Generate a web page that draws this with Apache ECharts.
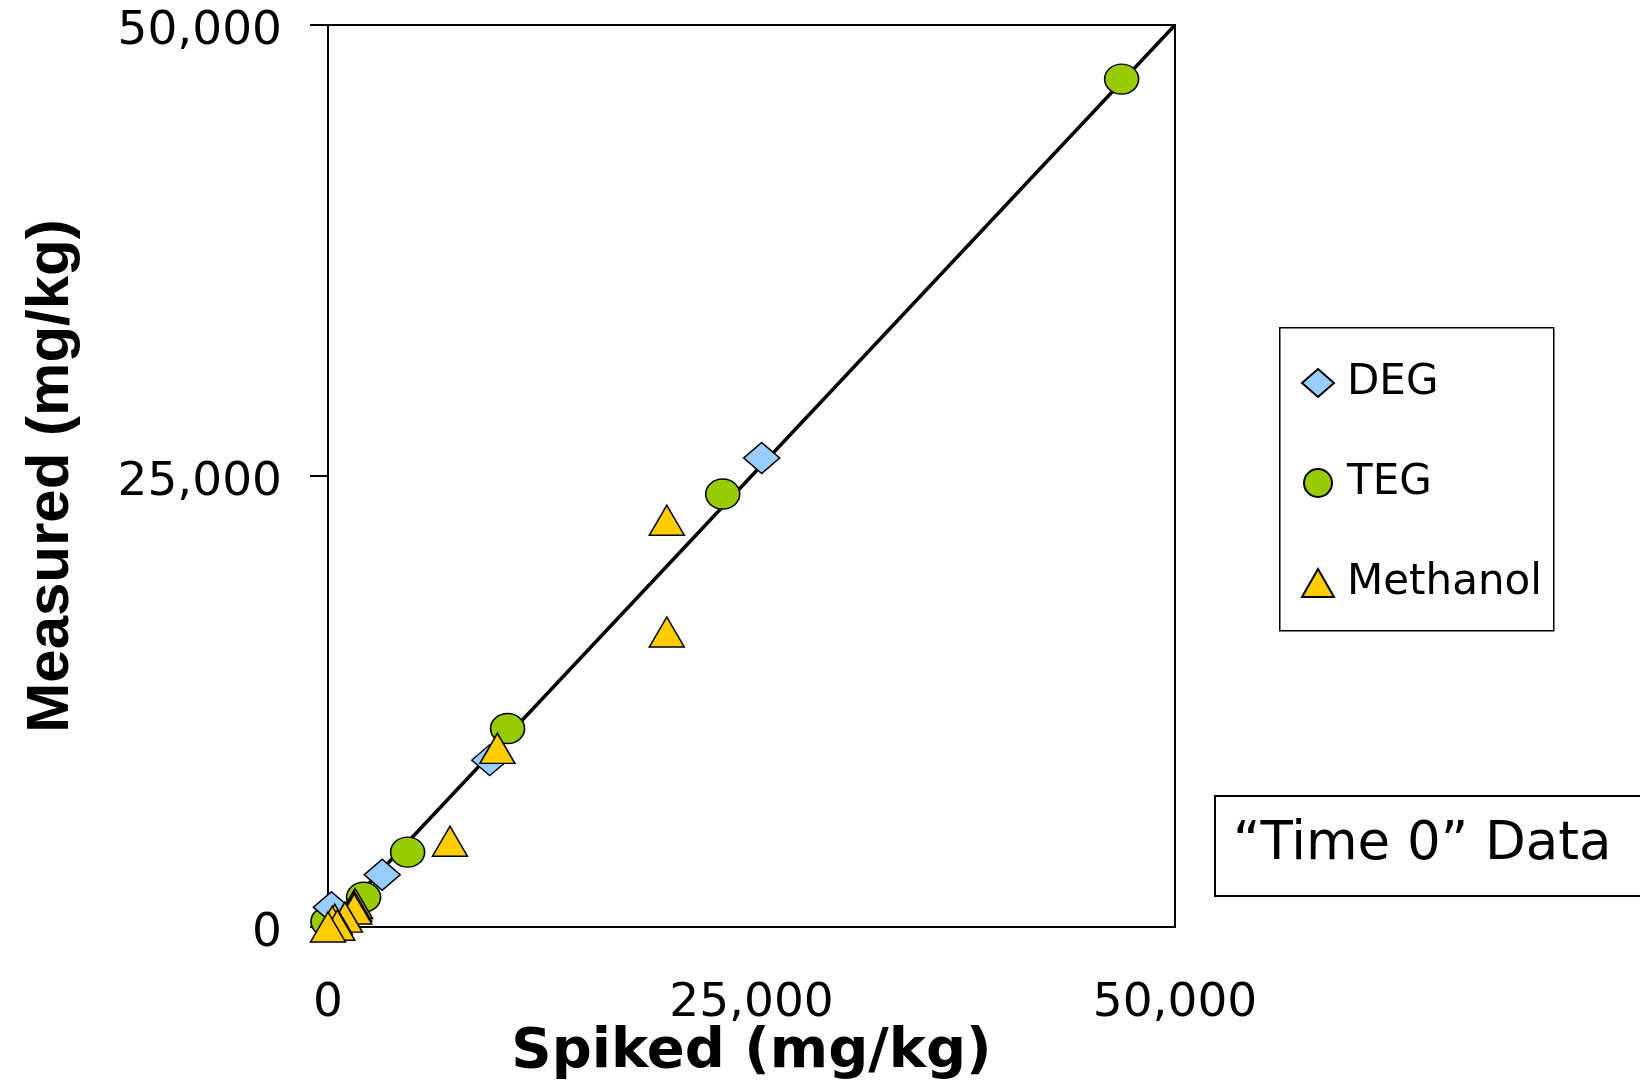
<!DOCTYPE html>
<html>
<head>
<meta charset="utf-8">
<script src="https://cdn.jsdelivr.net/npm/echarts@6/dist/echarts.min.js"></script>
<style>html,body{margin:0;padding:0;background:#fff;overflow:hidden;}#c{width:1640px;height:1082px;}</style>
</head>
<body>
<div id="c"></div>
<script>
// ---- data ----
const degSpiked = [25600, 9550, 3200, 200];
const degMeasured = [26000, 9250, 2900, 1100];
const tegSpiked = [46850, 23300, 10600, 4700, 2100, 0];
const tegMeasured = [47000, 24000, 11000, 4150, 1650, 300];
const methSpiked = [20000, 20000, 10000, 7200, 1600, 1550, 1550, 1000, 400, 250, 550, 0];
const methMeasured = [22550, 16350, 9900, 4750, 1300, 1150, 1000, 550, 430, 320, 100, 0];
const refLineX = [0, 50000];
const refLineY = [0, 50000];
const axisTicks = [0, 25000, 50000];
const seriesNames = ['DEG', 'TEG', 'Methanol'];
const legendOrder = ['DEG', 'TEG', 'Methanol'];
const boxText = '\u201CTime 0\u201D Data';

const zip = (a, b) => a.map((v, i) => [v, b[i]]);
const fmt = v => Number(v).toLocaleString('en-US');
const FONT = "'DejaVu Sans', sans-serif";

const chart = echarts.init(document.getElementById('c'), null, {renderer: 'canvas'});
chart.setOption({
  animation: false,
  backgroundColor: '#ffffff',
  grid: {left: 328, right: 465, top: 25, bottom: 155, containLabel: false, outerBoundsMode: 'none',
    show: true, borderColor: '#000', borderWidth: 2, backgroundColor: 'transparent'},
  xAxis: {
    type: 'value', min: axisTicks[0], max: axisTicks[2], interval: axisTicks[1] - axisTicks[0],
    axisLine: {show: true, lineStyle: {color: '#000', width: 2}},
    axisTick: {show: false},
    splitLine: {show: false},
    axisLabel: {color: '#000', fontFamily: FONT, fontSize: 47, lineHeight: 47, margin: 53, formatter: fmt},
    name: 'Spiked (mg/kg)', nameLocation: 'middle', nameGap: 125, nameMoveOverlap: false,
    nameTextStyle: {color: '#000', fontFamily: "'DejaVu Sans', sans-serif", fontWeight: 'bold', fontSize: 56, verticalAlign: 'middle', lineHeight: 56}
  },
  yAxis: {
    type: 'value', min: axisTicks[0], max: axisTicks[2], interval: axisTicks[1] - axisTicks[0],
    axisLine: {show: true, lineStyle: {color: '#000', width: 2}},
    axisTick: {show: true, inside: false, length: 18, lineStyle: {color: '#000', width: 2}},
    splitLine: {show: false},
    axisLabel: {color: '#000', margin: 46, formatter: v => '{v|' + fmt(v) + '}',
      rich: {v: {fontFamily: FONT, fontSize: 47, lineHeight: 47, padding: [14, 0, 0, 0], color: '#000'}}},
    name: 'Measured (mg/kg)', nameLocation: 'middle', nameGap: 277, nameRotate: 90, nameMoveOverlap: false,
    nameTextStyle: {color: '#000', fontFamily: "'Liberation Sans', Arial, sans-serif", fontWeight: 'bold', fontSize: 60, verticalAlign: 'middle', lineHeight: 60}
  },
  legend: {
    data: legendOrder, orient: 'vertical', left: 1301, top: 362, padding: 0,
    itemWidth: 32, itemHeight: 28, itemGap: 58,
    formatter: n => '{t|' + n + '}',
    textStyle: {color: '#000', rich: {t: {fontFamily: FONT, fontSize: 42, lineHeight: 50, padding: [0, 0, 0, 8], color: '#000'}}}
  },
  series: [
    {type: 'line', name: 'ref', data: zip(refLineX, refLineY), symbol: 'none', lineStyle: {color: '#000', width: 3.5}, z: 1, silent: true},
    {type: 'scatter', name: seriesNames[1], data: zip(tegSpiked, tegMeasured), symbol: 'circle', symbolSize: [34, 30], clip: false,
      itemStyle: {color: '#99CC00', borderColor: '#000', borderWidth: 1.5, opacity: 1}, z: 2},
    {type: 'scatter', name: seriesNames[0], data: zip(degSpiked, degMeasured), symbol: 'diamond', symbolSize: [36, 31], clip: false,
      itemStyle: {color: '#99CCFF', borderColor: '#000', borderWidth: 1.5, opacity: 1}, z: 3},
    {type: 'scatter', name: seriesNames[2], data: zip(methSpiked, methMeasured), symbol: 'triangle', symbolSize: [35, 30], clip: false,
      itemStyle: {color: '#FFCC00', borderColor: '#000', borderWidth: 1.5, opacity: 1}, z: 4}
  ],
  graphic: [
    {type: 'rect', left: 1279, top: 327, z: -1, shape: {width: 274, height: 303}, style: {fill: '#fff', stroke: '#000', lineWidth: 1.5}},
    {type: 'rect', left: 1214, top: 795, shape: {width: 500, height: 100}, style: {fill: '#fff', stroke: '#000', lineWidth: 2}},
    {type: 'text', left: 1233, top: 819, style: {text: boxText, font: "53px 'DejaVu Sans', sans-serif", fill: '#000'}}
  ]
});
</script>
</body>
</html>
